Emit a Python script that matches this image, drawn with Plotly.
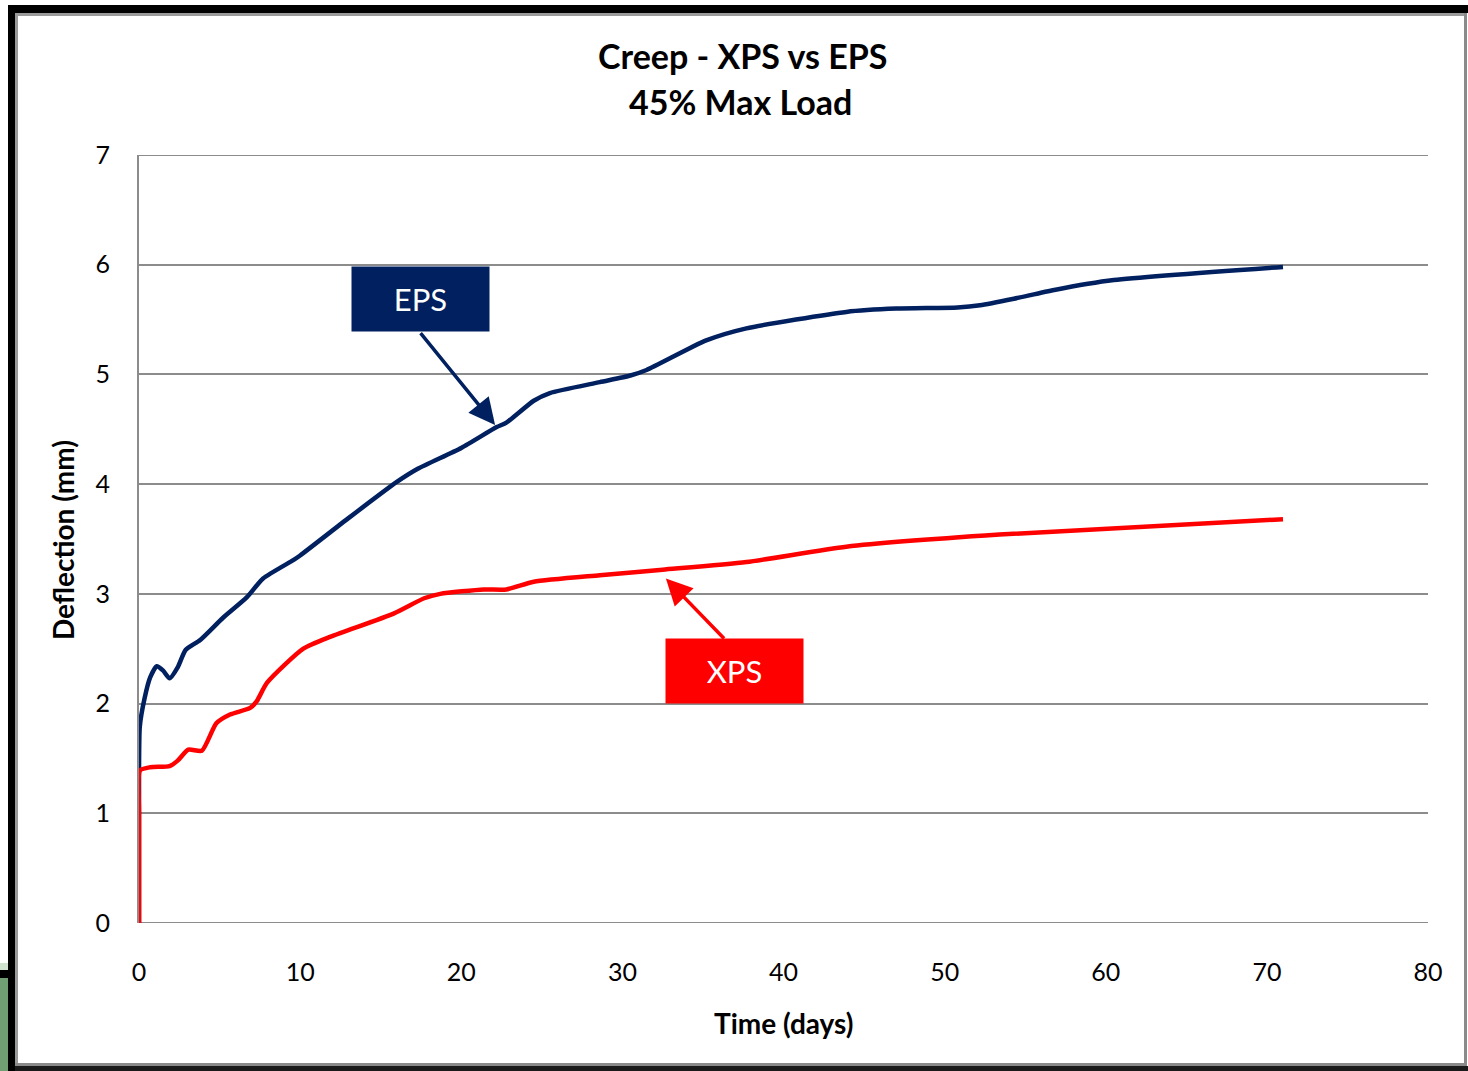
import plotly.graph_objects as go

# Creep test readings: time in days, deflection in mm
eps_days = [0, 0.0, 0.05, 0.35, 0.7, 1.1, 1.5, 1.9, 2.4, 2.9, 3.8, 5.2, 6.7, 7.7,
            9.6, 10.0, 13.0, 16.0, 17.3, 20.0, 22.2, 22.8, 24.5, 25.5, 28.6,
            30.5, 31.5, 35.2, 37.7, 43.9, 47.0, 50.8, 52.2, 54.3, 56.8, 60.5, 71.0]
eps_defl = [0, 1.0, 1.79, 2.05, 2.24, 2.34, 2.30, 2.23, 2.33, 2.49, 2.58, 2.78, 2.97, 3.14,
            3.31, 3.35, 3.69, 4.02, 4.14, 4.33, 4.52, 4.56, 4.76, 4.83, 4.93,
            4.99, 5.04, 5.31, 5.42, 5.57, 5.60, 5.61, 5.63, 5.69, 5.77, 5.86, 5.98]

xps_days = [0, 0.0, 0.06, 0.7, 1.9, 2.4, 3.06, 3.9, 4.8, 5.65, 6.9, 7.3, 7.95, 10.2,
            11.9, 15.8, 17.7, 18.7, 21.4, 22.8, 24.5, 28.6, 32.5, 37.7, 43.9,
            53.4, 71.0]
xps_defl = [0, 1.0, 1.39, 1.42, 1.43, 1.48, 1.58, 1.57, 1.82, 1.90, 1.96, 2.02, 2.19, 2.50,
            2.61, 2.82, 2.96, 3.00, 3.04, 3.04, 3.11, 3.17, 3.22, 3.29, 3.43,
            3.54, 3.68]

x_ticks = [0, 10, 20, 30, 40, 50, 60, 70, 80]
y_ticks = [0, 1, 2, 3, 4, 5, 6, 7]

NAVY = "#002060"
RED = "#FF0000"
GRID = "#8C8C8C"
FONT = "Lato, 'Open Sans', sans-serif"

W, H = 1468, 1071
L, R, T, B = 139, 1428, 155, 923


def px(x):
    return (x - L) / (R - L)


def py(y):
    return (B - y) / (B - T)


fig = go.Figure()
fig.add_trace(go.Scatter(x=eps_days, y=eps_defl, mode="lines", name="EPS",
                         line=dict(color=NAVY, width=4.5, shape="spline", smoothing=0.6)))
fig.add_trace(go.Scatter(x=xps_days, y=xps_defl, mode="lines", name="XPS",
                         line=dict(color=RED, width=4.5, shape="spline", smoothing=0.6)))

annotations = [
    # label boxes
    dict(x=17.47, y=5.69, xref="x", yref="y", text="EPS", showarrow=False,
         width=135, height=62, bgcolor=NAVY, font=dict(family=FONT, size=31, color="white"),
         valign="middle"),
    dict(x=36.93, y=2.30, xref="x", yref="y", text="XPS", showarrow=False,
         width=135, height=62, bgcolor=RED, font=dict(family=FONT, size=31, color="white"),
         valign="middle"),
    # pointer arrows
    dict(x=22.1, y=4.54, xref="x", yref="y", ax=17.4, ay=5.39, axref="x", ayref="y",
         text="", showarrow=True, arrowhead=2, arrowsize=1.5, arrowwidth=3.5,
         arrowcolor=NAVY, standoff=0, startstandoff=0),
    dict(x=32.7, y=3.14, xref="x", yref="y", ax=36.4, ay=2.58, axref="x", ayref="y",
         text="", showarrow=True, arrowhead=2, arrowsize=1.5, arrowwidth=3.5,
         arrowcolor=RED, standoff=0, startstandoff=0),
    # title
    dict(x=px(742), y=py(55), xref="paper", yref="paper", text="<b>Creep - XPS vs EPS</b>",
         showarrow=False, font=dict(family=FONT, size=34, color="black"),
         xanchor="center", yanchor="middle"),
    dict(x=px(740), y=py(101), xref="paper", yref="paper", text="<b>45% Max Load</b>",
         showarrow=False, font=dict(family=FONT, size=34, color="black"),
         xanchor="center", yanchor="middle"),
    # axis titles
    dict(x=px(783), y=py(1023), xref="paper", yref="paper", text="<b>Time (days)</b>",
         showarrow=False, font=dict(family=FONT, size=28, color="black"),
         xanchor="center", yanchor="middle"),
    dict(x=px(63), y=py(540), xref="paper", yref="paper", text="<b>Deflection (mm)</b>",
         showarrow=False, textangle=-90, font=dict(family=FONT, size=28, color="black"),
         xanchor="center", yanchor="middle"),
]


def rect(x0, y0, x1, y1, color):
    return dict(type="rect", xref="paper", yref="paper", x0=px(x0), x1=px(x1),
                y0=py(y1), y1=py(y0), fillcolor=color, line=dict(width=0), layer="above")


shapes = [
    # gridlines at the range edges
    dict(type="line", xref="paper", yref="y", x0=0, x1=1, y0=7, y1=7,
         line=dict(color=GRID, width=2), layer="below"),
    dict(type="line", xref="paper", yref="y", x0=0, x1=1, y0=0, y1=0,
         line=dict(color=GRID, width=2), layer="below"),
    # outer frame
    rect(8, 5, W, 13, "black"),
    rect(8, 5, 15, H, "black"),
    rect(15, H - 5, W, H, "#1a1a1a"),
    rect(15, 13, 18, H - 5, "#9a9a9a"),
    rect(15, 13, W - 3, 16, "#9a9a9a"),
    rect(W - 4, 13, W - 1, H - 5, "#8a8a8a"),
    rect(15, H - 8, W - 1, H - 5, "#8a8a8a"),
    # background strip at the lower left edge
    rect(0, 963, 8, 973, "#cfe3cf"),
    rect(0, 973, 8, H, "#6f9f72"),
    rect(0, 970, 15, 978, "black"),
]

fig.update_layout(
    width=W, height=H,
    margin=dict(l=L, r=W - R, t=T, b=H - B),
    paper_bgcolor="white", plot_bgcolor="white",
    showlegend=False,
    annotations=annotations,
    shapes=shapes,
    font=dict(family=FONT, color="black"),
)
fig.update_xaxes(range=[0, 80], tickvals=x_ticks, ticktext=[str(v) for v in x_ticks],
                 showgrid=False, zeroline=False, showline=False,
                 ticks="outside", ticklen=27, tickcolor="rgba(0,0,0,0)",
                 tickfont=dict(family=FONT, size=25, color="black"))
fig.update_yaxes(range=[0, 7], tickvals=y_ticks, ticktext=[str(v) for v in y_ticks],
                 showgrid=True, gridcolor=GRID, gridwidth=2, zeroline=False,
                 showline=True, linecolor=GRID, linewidth=2,
                 ticks="outside", ticklen=22, tickcolor="rgba(0,0,0,0)",
                 tickfont=dict(family=FONT, size=25, color="black"))

fig.write_html("out.html")
